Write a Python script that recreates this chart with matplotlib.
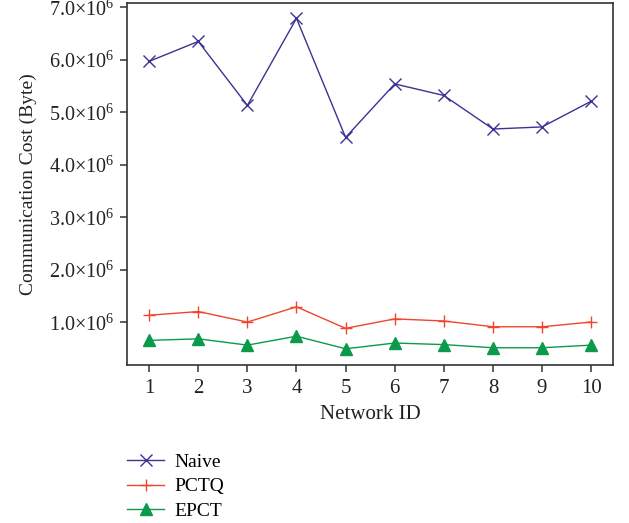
import numpy as np
import matplotlib.pyplot as plt
from matplotlib.ticker import FuncFormatter

plt.rcParams['font.family'] = 'Liberation Serif'
plt.rcParams['mathtext.fontset'] = 'custom'
plt.rcParams['mathtext.rm'] = 'Liberation Serif'

# data
network_id = [1, 2, 3, 4, 5, 6, 7, 8, 9, 10]
naive = [5.97e6, 6.35e6, 5.13e6, 6.79e6, 4.52e6, 5.54e6, 5.32e6, 4.68e6, 4.72e6, 5.21e6]
pctq = [1.13e6, 1.20e6, 1.00e6, 1.29e6, 0.88e6, 1.06e6, 1.02e6, 0.91e6, 0.91e6, 1.00e6]
epct = [0.65e6, 0.68e6, 0.56e6, 0.73e6, 0.49e6, 0.60e6, 0.57e6, 0.51e6, 0.51e6, 0.56e6]
y_ticks = [1e6, 2e6, 3e6, 4e6, 5e6, 6e6, 7e6]

fig = plt.figure(figsize=(6.29, 5.23), dpi=100)
ax = fig.add_axes([0.202, 0.302, 0.773, 0.692])

ax.plot(network_id, naive, color='#3a3394', marker='x', markersize=8, lw=1.0, label='Naive')
ax.plot(network_id, pctq, color='#f0452c', marker='+', markersize=9, lw=1.0, label='PCTQ')
ax.plot(network_id, epct, color='#0a9a4a', marker='^', markersize=8, lw=1.0, label='EPCT')

ax.set_xlim(0.55, 10.45)
ax.set_ylim(0.18e6, 7.08e6)
ax.set_xticks(network_id)
ax.set_yticks(y_ticks)
ax.yaxis.set_major_formatter(FuncFormatter(lambda v, p: '%.1f$\\times$10$^{6}$' % (v / 1e6)))

for s in ax.spines.values():
    s.set_color('#333333')
    s.set_linewidth(1.2)
ax.tick_params(direction='out', length=5, width=1.1, color='#333333',
               labelsize=15, labelcolor='#222222', pad=5)
ax.tick_params(axis='y', labelsize=14.5, pad=4)

ax.set_xlabel('Network ID', fontsize=15, color='#222222', labelpad=5)
ax.set_ylabel('Communication Cost (Byte)', fontsize=14, color='#222222', labelpad=9)

fig.legend(loc='upper left', bbox_to_anchor=(0.19, 0.148), frameon=False,
           fontsize=14, handlelength=1.9, handletextpad=0.5,
           labelspacing=0.35, borderaxespad=0)

fig.savefig('out.png', dpi=100)
